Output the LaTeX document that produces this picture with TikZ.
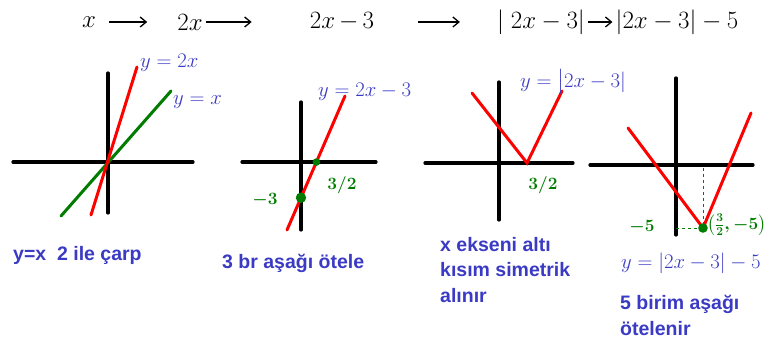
\documentclass[tikz,border=0pt]{standalone}
\usepackage{fontspec}
\setmainfont{Liberation Sans}
\usepackage{amsmath}
\usetikzlibrary{arrows.meta,calc,positioning}
\definecolor{hblue}{RGB}{58,58,196}
\definecolor{hgreen}{RGB}{0,125,0}
\definecolor{hred}{RGB}{255,0,0}

\begin{document}
\begin{tikzpicture}[x=1pt,y=-1pt,>={Straight Barb[length=6pt,width=10pt]},
    axis/.style={line width=3.2pt,line cap=round},
    curve/.style={line width=3pt,hred,line cap=round},
    chain/.style={font=\fontsize{24}{26}\selectfont,inner sep=0pt},
    link/.style={->,line width=1.3pt},
    hand/.style={font=\fontsize{19.5}{21}\selectfont,hblue,inner sep=0pt,anchor=west},
    gmark/.style={font=\fontsize{17}{19}\selectfont\boldmath,hgreen,inner sep=0pt},
    note/.style={font=\fontsize{19.5}{25.5}\selectfont\bfseries,hblue,align=left,anchor=north west,inner sep=0pt}]
  \useasboundingbox (0,0) rectangle (780,347);
  % top line
  \node[chain] (e1) at (89,22) {$x$};
  \node[chain] (e2) at (190,22) {$2x$};
  \node[chain] (e3) at (342,22) {$2x\,{-}\,3$};
  \node[chain] (e4) at (541,22) {$|\;2x-3|$};
  \node[chain] (e5) at (677,22) {$|2x-3|-5$};
  \draw[link,shorten <=13pt,shorten >=30pt] (e1) -- (e2);
  \draw[link,shorten <=3pt,shorten >=58pt] (e2) -- (e3);
  \draw[link,shorten <=44pt,shorten >=37pt] (e3) -- (e4);
  \draw[link,shorten <=3pt,shorten >=3pt] (e4) -- (e5);
  % y=x and y=2x
  \begin{scope}[shift={(108,162)}]
    \coordinate (O1) at (0,0);
    \draw[axis] (-95,0) -- (85,0);
    \draw[axis] (0,-89) -- (0,51);
    \draw[curve,hgreen] (-47,54) -- (63,-71);
    \draw[curve] (-17,53) -- (29,-95);
    \node[hand] (l1a) at (32,-99) {$y=2x$};
    \node[hand] (l1b) at (65,-60) {$y=x$};
    \node[note] (n1) at (-95,84) {y=x\ \ 2 ile çarp};
  \end{scope}
  % y=2x-3
  \begin{scope}[shift={(301,162)}]
    \draw[axis] (-59,0) -- (75,0);
    \draw[axis] (0,-60) -- (0,68);
    \coordinate (A2) at (-14,68);
    \coordinate (B2) at (44,-66);
    \draw[curve] (A2) -- (B2);
    \fill[hgreen] ($(A2)!0.507!(B2)$) circle (3.8);
    \fill[hgreen] ($(A2)!0.241!(B2)$) circle (5.2);
    \node[hand] (l2) at (17,-70) {$y=2x-3$};
    \node[gmark] (m2a) at (-36,38) {$-3$};
    \node[gmark] (m2b) at (41,23) {$3/2$};
    \node[note] (n2) at (-79,92) {3 br aşağı ötele};
  \end{scope}
  % y=|2x-3|
  \begin{scope}[shift={(499,163)}]
    \draw[axis] (-74,0) -- (74,0);
    \draw[axis] (0,-81) -- (0,57);
    \draw[curve,line join=miter] (-27,-70) -- (28,0) -- (63,-72);
    \node[gmark] (m3) at (44,22) {$3/2$};
    \node[hand] (l3) at (21,-81) {$y=\big|2x-3|$};
    \node[note] (n3) at (-59,74) {x ekseni altı\\kısım simetrik\\alınır};
  \end{scope}
  % y=|2x-3|-5
  \begin{scope}[shift={(676,165)}]
    \draw[axis] (-86,0) -- (77,0);
    \draw[axis] (0,-87) -- (0,70);
    \coordinate (V4) at (27,63);
    \draw[hgreen,line width=0.8pt,dashed] (27,3) -- (V4);
    \draw[hgreen,line width=0.8pt,dashed] (0,63) -- (V4);
    \draw[curve,line join=miter] (-48,-37) -- (V4) -- (75,-52);
    \fill[hgreen] (V4) circle (4.8);
    \node[gmark] (m4a) at (-34,62) {$-5$};
    \node[gmark,anchor=west] (m4b) at (31,60) {$\bigl(\frac{3}{2},-5\bigr)$};
    \node[hand,font=\fontsize{22}{24}\selectfont] (l4) at (-55,98) {$y=|2x-3|-5$};
    \node[note] (n4) at (-56,130) {5 birim aşağı\\ötelenir};
  \end{scope}
\end{tikzpicture}
\end{document}
